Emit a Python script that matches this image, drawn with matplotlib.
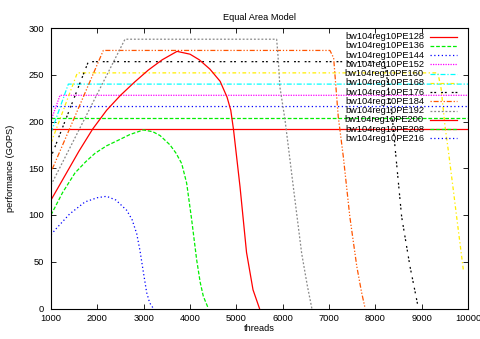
import matplotlib
matplotlib.use("Agg")
import matplotlib.pyplot as plt

plt.rcParams['font.family'] = ['Liberation Sans', 'DejaVu Sans']

# data (threads -> GOPS)
pe128_x = [1000, 10000]
pe128_y = [192, 192]
pe136_x = [1000, 10000]
pe136_y = [204, 204]
pe144_x = [1000, 1030, 10000]
pe144_y = [213, 216, 216]
pe152_x = [1000, 1194, 10000]
pe152_y = [201, 228, 228]
pe160_x = [1000, 1374, 10000]
pe160_y = [188, 240, 240]
pe168_x = [1000, 1568, 9350, 9420, 9504, 9575, 9680, 9755, 9900]
pe168_y = [177, 252, 252, 235, 195, 169, 128, 98, 41]
pe176_x = [1000, 1806, 8200, 8270, 8370, 8430, 8568, 8748, 8878, 8930]
pe176_y = [162, 264, 264, 240, 202, 170, 98, 45, 13, 0]
pe184_x = [1000, 2129, 7020, 7100, 7200, 7310, 7450, 7600, 7700, 7780]
pe184_y = [146, 276, 276, 268, 205, 162, 98, 45, 18, 0]
pe192_x = [1000, 2597, 5870, 5900, 5940, 6050, 6230, 6410, 6530, 6630]
pe192_y = [132, 288, 288, 270, 237, 202, 130, 59, 25, 0]
pe200_x = [1000, 1300, 1600, 1900, 2200, 2500, 2800, 3100, 3400, 3720, 4000, 4200,
           4430, 4650, 4800, 4880, 4940, 5080, 5220, 5360, 5500]
pe200_y = [116, 142, 168, 192, 212, 228, 242, 255, 266, 275, 272, 266,
           256, 243, 226, 212, 191, 130, 60, 20, 0]
pe208_x = [1000, 1250, 1518, 1750, 1950, 2200, 2453, 2700, 2994, 3200, 3353, 3568,
           3700, 3821, 3928, 4036, 4144, 4220, 4288, 4396]
pe208_y = [100, 124, 145, 157, 166, 174, 180, 186, 191, 189, 185, 175,
           166, 155, 134, 95, 52, 28, 13, 0]
pe216_x = [1000, 1123, 1400, 1734, 2000, 2200, 2400, 2634, 2750, 2850, 2920, 2990,
           3065, 3130, 3210]
pe216_y = [79, 86, 101, 114, 118.5, 120, 116, 105, 95, 80, 62, 40, 17, 6, 0]

labels = ["bw104reg10PE%d" % n for n in range(128, 217, 8)]
series = [(pe128_x, pe128_y), (pe136_x, pe136_y), (pe144_x, pe144_y),
          (pe152_x, pe152_y), (pe160_x, pe160_y), (pe168_x, pe168_y),
          (pe176_x, pe176_y), (pe184_x, pe184_y), (pe192_x, pe192_y),
          (pe200_x, pe200_y), (pe208_x, pe208_y), (pe216_x, pe216_y)]

# gnuplot postscript line types, cycling every 9
colors = ["#ff0000", "#00ee00", "#0000ff", "#ff00ff", "#00ffff",
          "#ffee00", "#000000", "#ff5500", "#888888"]
styles = ["-", (0, (3, 1.5)), (0, (1, 2)), (0, (1, 1)), (0, (4, 1.5, 1, 1.5)),
          (0, (3, 2, 1, 2)), (0, (1.5, 1.5, 1.5, 4)), (0, (1, 1.5, 4, 1.5, 1, 1.5)),
          (0, (1.5, 1.5))]

FS = 6.7

fig = plt.figure(figsize=[4.81, 3.39], dpi=100)
fig.subplots_adjust(left=51 / 481, right=468 / 481, bottom=1 - 308.5 / 339, top=1 - 28 / 339)
ax = fig.add_subplot(111)

for i, ((x, y), label) in enumerate(zip(series, labels)):
    ax.plot(x, y, color=colors[i % 9], linestyle=styles[i % 9], linewidth=0.9)

# key in the top right, text first, then a sample of the line
for i, label in enumerate(labels):
    yk = 0.969 - i * 0.03294
    ax.text(0.8945, yk, label, transform=ax.transAxes, ha="right", va="center", fontsize=FS)
    ax.plot([0.909, 0.974], [yk, yk], transform=ax.transAxes, color=colors[i % 9],
            linestyle=styles[i % 9], linewidth=0.9)

ax.set_xlim(1000, 10000)
ax.set_ylim(0, 300)
ax.set_xticks(range(1000, 10001, 1000))
ax.set_yticks(range(0, 301, 50))
ax.tick_params(direction="in", length=3.5, width=0.6, labelsize=FS, top=True, right=True)
ax.tick_params(axis="x", pad=4)
ax.tick_params(axis="y", pad=5)
for s in ax.spines.values():
    s.set_linewidth(0.8)

ax.set_title("Equal Area Model", fontsize=FS, pad=6)
ax.set_xlabel("threads", fontsize=FS)
ax.set_ylabel("performance (GOPS)", fontsize=FS)
ax.xaxis.set_label_coords(0.5, -0.057)
ax.yaxis.set_label_coords(-0.086, 0.5)

fig.savefig("out.png", dpi=100)
